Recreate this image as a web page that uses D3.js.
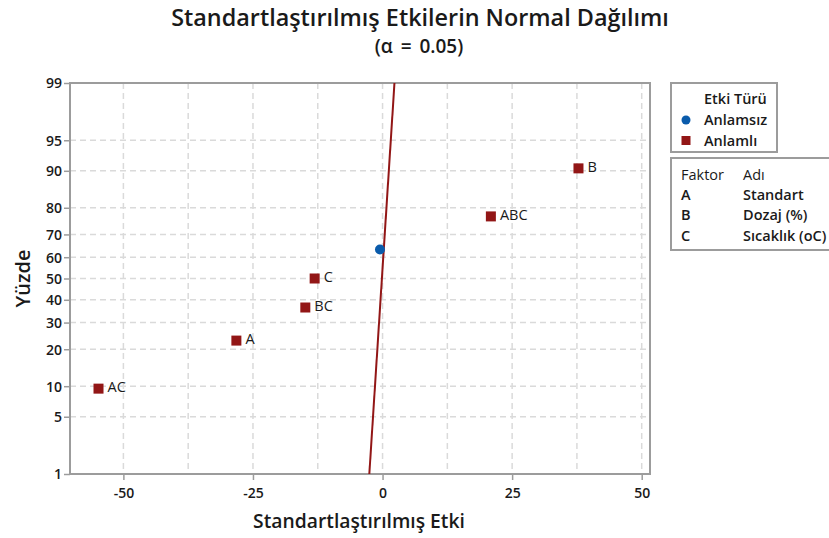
<!DOCTYPE html>
<html>
<head>
<meta charset="utf-8">
<script src="https://cdn.jsdelivr.net/npm/d3@7"></script>
<style>
  body { margin: 0; background: #fff; }
  svg { display: block; font-family: 'Open Sans', 'Noto Sans', sans-serif; }
</style>
</head>
<body>
<div id="chart"></div>
<script>
// effects, sorted by value
const effectNames = ['AC', 'A', 'BC', 'C', 'AB', 'ABC', 'B'];
const effectValues = [-54.8, -28.2, -14.9, -13.1, -0.5, 20.9, 37.8];
const effectPercents = [9.5, 23, 36.5, 50, 63.5, 77, 90.5];
const effectSignificant = [true, true, true, true, false, true, true];

// reference line ends
const refLineX = [-2.55, 2.3];
const refLinePct = [1, 99];

const xTicks = [-50, -25, 0, 25, 50];
const xGrid = [-50, -37.5, -25, -12.5, 0, 12.5, 25, 37.5, 50];
const yTicks = [1, 5, 10, 20, 30, 40, 50, 60, 70, 80, 90, 95, 99];

const legendTypes = ['Anlamsız', 'Anlamlı'];
const factorKeys = ['A', 'B', 'C'];
const factorNames = ['Standart', 'Dozaj (%)', 'Sıcaklık (oC)'];

// inverse normal cdf (Acklam)
function probit (p) {
  const a = [-39.69683028665376, 220.9460984245205, -275.9285104469687, 138.3577518672690, -30.66479806614716, 2.506628277459239];
  const b = [-54.47609879822406, 161.5858368580409, -155.6989798598866, 66.80131188771972, -13.28068155288572];
  const c = [-0.007784894002430293, -0.3223964580411365, -2.400758277161838, -2.549732539343734, 4.374664141464968, 2.938163982698783];
  const d = [0.007784695709041462, 0.3224671290700398, 2.445134137142996, 3.754408661907416];
  const pl = 0.02425;
  let q, r;
  if (p < pl) {
    q = Math.sqrt(-2 * Math.log(p));
    return (((((c[0] * q + c[1]) * q + c[2]) * q + c[3]) * q + c[4]) * q + c[5]) / ((((d[0] * q + d[1]) * q + d[2]) * q + d[3]) * q + 1);
  }
  if (p > 1 - pl) {
    q = Math.sqrt(-2 * Math.log(1 - p));
    return -(((((c[0] * q + c[1]) * q + c[2]) * q + c[3]) * q + c[4]) * q + c[5]) / ((((d[0] * q + d[1]) * q + d[2]) * q + d[3]) * q + 1);
  }
  q = p - 0.5;
  r = q * q;
  return (((((a[0] * r + a[1]) * r + a[2]) * r + a[3]) * r + a[4]) * r + a[5]) * q / (((((b[0] * r + b[1]) * r + b[2]) * r + b[3]) * r + b[4]) * r + 1);
}

const width = 829;
const height = 538;
const plot = { left: 70, right: 650, top: 83, bottom: 474 };
const red = '#921616';
const blue = '#0a5bab';
const frameColor = '#9c9c9c';
const textColor = '#1a1a1a';

const svg = d3.select('#chart').append('svg')
  .attr('width', width)
  .attr('height', height);

const x = d3.scaleLinear().domain([-60.3, 51.6]).range([plot.left, plot.right]);
const z = d3.scaleLinear().domain([probit(0.01), probit(0.99)]).range([plot.bottom, plot.top]);
const y = p => z(probit(p / 100));

// grid
const grid = svg.append('g')
  .attr('stroke', '#dadada')
  .attr('stroke-width', 1.5)
  .attr('stroke-dasharray', '6,4');
grid.selectAll('line.v')
  .data(xGrid)
  .enter()
  .append('line')
  .attr('class', 'v')
  .attr('x1', d => x(d)).attr('x2', d => x(d))
  .attr('y1', plot.top).attr('y2', plot.bottom);
grid.selectAll('line.h')
  .data(yTicks.slice(1, -1))
  .enter()
  .append('line')
  .attr('class', 'h')
  .attr('x1', plot.left).attr('x2', plot.right)
  .attr('y1', d => y(d)).attr('y2', d => y(d));

// axes
const xAxis = svg.append('g')
  .attr('transform', `translate(0,${plot.bottom})`)
  .call(d3.axisBottom(x).tickValues(xTicks).tickSize(6).tickFormat(d => String(d)));
const yAxis = svg.append('g')
  .attr('transform', `translate(${plot.left},0)`)
  .call(d3.axisLeft(z).tickValues(yTicks.map(p => probit(p / 100))).tickSize(6)
    .tickFormat((d, i) => yTicks[i]));
[xAxis, yAxis].forEach(a => {
  a.attr('font-family', null).attr('font-size', null);
  a.select('.domain').remove();
  a.selectAll('line').attr('stroke', frameColor).attr('stroke-width', 1.5);
  a.selectAll('text')
    .attr('fill', textColor)
    .style('font-size', '14px')
    .style('font-weight', 600);
});
xAxis.selectAll('text').attr('dy', '1.05em');
yAxis.selectAll('text').attr('x', -8).attr('dy', '0.35em');

svg.append('rect')
  .attr('x', plot.left).attr('y', plot.top)
  .attr('width', plot.right - plot.left)
  .attr('height', plot.bottom - plot.top)
  .attr('fill', 'none')
  .attr('stroke', frameColor)
  .attr('stroke-width', 2);

// reference line
svg.append('line')
  .attr('x1', x(refLineX[0])).attr('y1', y(refLinePct[0]))
  .attr('x2', x(refLineX[1])).attr('y2', y(refLinePct[1]))
  .attr('stroke', red)
  .attr('stroke-width', 2);

// points
const pts = effectNames.map((n, i) => ({
  name: n, value: effectValues[i], pct: effectPercents[i], sig: effectSignificant[i]
}));
svg.append('g').selectAll('rect')
  .data(pts.filter(d => d.sig))
  .enter()
  .append('rect')
  .attr('x', d => x(d.value) - 5)
  .attr('y', d => y(d.pct) - 5)
  .attr('width', 10).attr('height', 10)
  .attr('fill', red);
svg.append('g').selectAll('circle')
  .data(pts.filter(d => !d.sig))
  .enter()
  .append('circle')
  .attr('cx', d => x(d.value))
  .attr('cy', d => y(d.pct))
  .attr('r', 5)
  .attr('fill', blue);
svg.append('g').selectAll('text')
  .data(pts.filter(d => d.sig))
  .enter()
  .append('text')
  .attr('x', d => x(d.value) + 9)
  .attr('y', d => y(d.pct) - 1.5)
  .attr('dy', '0.35em')
  .attr('fill', textColor)
  .style('font-size', '14.5px')
  .text(d => d.name);

// titles
svg.append('text')
  .attr('x', 420).attr('y', 26)
  .attr('text-anchor', 'middle')
  .attr('fill', textColor)
  .style('font-size', '23.4px')
  .style('font-weight', 600)
  .text('Standartlaştırılmış Etkilerin Normal Dağılımı');
svg.append('text')
  .attr('x', 419).attr('y', 53)
  .attr('text-anchor', 'middle')
  .attr('fill', textColor)
  .style('font-size', '19px')
  .style('font-weight', 600)
  .style('word-spacing', '3px')
  .text('(α = 0.05)');
svg.append('text')
  .attr('x', 359).attr('y', 528)
  .attr('text-anchor', 'middle')
  .attr('fill', textColor)
  .style('font-size', '19.3px')
  .style('font-weight', 600)
  .text('Standartlaştırılmış Etki');
svg.append('text')
  .attr('transform', `translate(30,${(plot.top + plot.bottom) / 2}) rotate(-90)`)
  .attr('text-anchor', 'middle')
  .attr('fill', textColor)
  .style('font-size', '20px')
  .style('font-weight', 600)
  .text('Yüzde');

// legend: effect type
const lg1 = svg.append('g');
lg1.append('rect')
  .attr('x', 671).attr('y', 83).attr('width', 106).attr('height', 69)
  .attr('fill', '#fff').attr('stroke', frameColor).attr('stroke-width', 2);
lg1.append('text')
  .attr('x', 704).attr('y', 104)
  .attr('fill', textColor)
  .style('font-size', '14.5px').style('font-weight', 600)
  .text('Etki Türü');
legendTypes.forEach((t, i) => {
  const ly = 120 + i * 20.5;
  if (i === 0) {
    lg1.append('circle').attr('cx', 686).attr('cy', ly).attr('r', 4.5).attr('fill', blue);
  } else {
    lg1.append('rect').attr('x', 681.5).attr('y', ly - 4.5).attr('width', 9).attr('height', 9).attr('fill', red);
  }
  lg1.append('text')
    .attr('x', 704).attr('y', ly)
    .attr('dy', '0.35em')
    .attr('fill', textColor)
    .style('font-size', '14.5px').style('font-weight', 600)
    .text(t);
});

// legend: factors
const lg2 = svg.append('g');
lg2.append('rect')
  .attr('x', 671).attr('y', 158).attr('width', 170).attr('height', 92)
  .attr('fill', '#fff').attr('stroke', frameColor).attr('stroke-width', 2);
lg2.append('text')
  .attr('x', 681).attr('y', 180)
  .attr('fill', textColor)
  .style('font-size', '14.5px')
  .text('Faktor');
lg2.append('text')
  .attr('x', 743).attr('y', 180)
  .attr('fill', textColor)
  .style('font-size', '14.5px')
  .text('Adı');
factorKeys.forEach((k, i) => {
  const ly = 199.5 + i * 20.8;
  lg2.append('text')
    .attr('x', 681).attr('y', ly)
    .attr('fill', textColor)
    .style('font-size', '14.5px').style('font-weight', 600)
    .text(k);
  lg2.append('text')
    .attr('x', 743).attr('y', ly)
    .attr('fill', textColor)
    .style('font-size', '14.5px').style('font-weight', 600)
    .text(factorNames[i]);
});
</script>
</body>
</html>
